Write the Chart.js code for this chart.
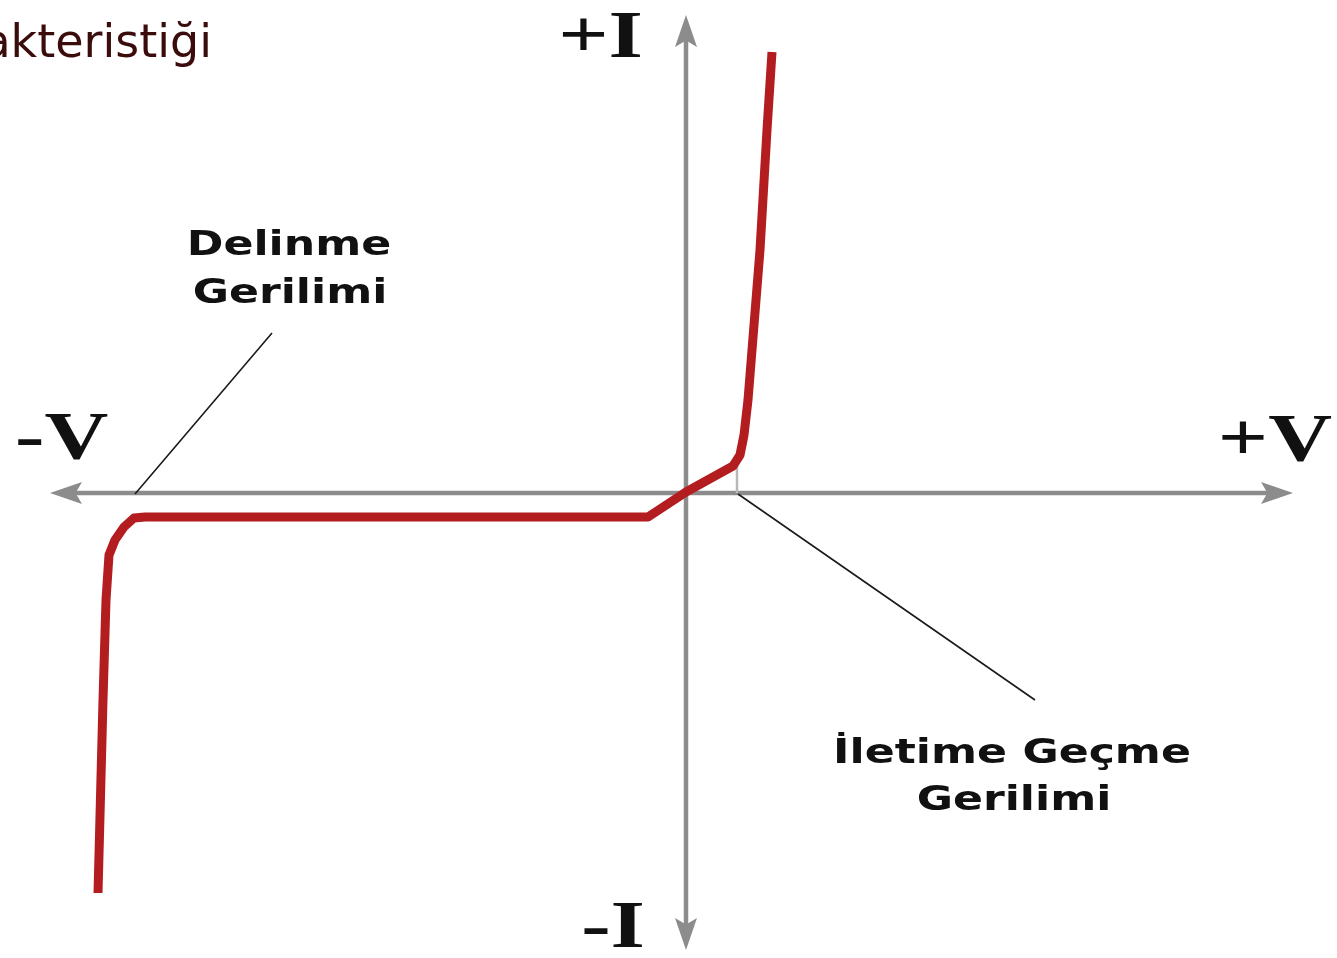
<!DOCTYPE html>
<html>
<head>
<meta charset="utf-8">
<script src="https://cdn.jsdelivr.net/npm/chart.js@4"></script>
<style>
  html, body { margin: 0; padding: 0; background: #fff; }
  #wrap { width: 1337px; height: 958px; position: relative; }
</style>
</head>
<body>
<div id="wrap"><canvas id="diyot"></canvas></div>
<script>
// diyot akim-gerilim egrisi (V, I birimsiz)
const voltaj = [-58.8, -58.3, -58.0, -57.7, -57.1, -56.2, -55.2, -54.1, -3.8, 0.0, 4.7, 5.4, 5.8, 6.2, 7.4, 8.1, 8.6];
const akim   = [-40.0, -20.7, -10.7, -6.2, -4.7, -3.4, -2.5, -2.4, -2.4, 0.1, 2.7, 3.8, 5.8, 9.3, 24.3, 36.3, 44.1];

const delinmeV = -55.1;   // delinme gerilimi
const iletimV = 5.1;      // iletime gecme gerilimi

const eksenEtiketleri = ["+I", "-I", "-V", "+V"];
const notlar = [["Delinme", "Gerilimi"], ["İletime Geçme", "Gerilimi"]];
const baslik = "Diyot Karakteristiği";

const noktalar = voltaj.map((v, i) => ({ x: v, y: akim[i] }));

const GRI = "#8c8c8c";
const SX = 1.3; // yazilar yatayda genis

function yaz(ctx, text, x, y, align, font, color, sx) {
    ctx.save();
    ctx.translate(x, y);
    ctx.scale(sx, 1);
    ctx.font = font;
    ctx.fillStyle = color;
    ctx.textAlign = align;
    ctx.textBaseline = "alphabetic";
    ctx.fillText(text, 0, 0);
    ctx.restore();
}

function ok(ctx, x, y, dx, dy) {
    // ucu (x,y) olan ok basi, (dx,dy) yonunde
    const L = 32, W = 11;
    const px = -dy, py = dx;
    ctx.beginPath();
    ctx.moveTo(x, y);
    ctx.lineTo(x - dx * L + px * W, y - dy * L + py * W);
    ctx.lineTo(x - dx * L * 0.8, y - dy * L * 0.8);
    ctx.lineTo(x - dx * L - px * W, y - dy * L - py * W);
    ctx.closePath();
    ctx.fill();
}

const eksenler = {
    id: "eksenler",
    beforeDatasetsDraw(chart) {
        const { ctx, scales: { x, y } } = chart;
        const x0 = x.getPixelForValue(0), y0 = y.getPixelForValue(0);
        const xl = x.getPixelForValue(-63.6), xr = x.getPixelForValue(60.7);
        const yt = y.getPixelForValue(47.8), yb = y.getPixelForValue(-45.7);
        ctx.save();
        ctx.strokeStyle = GRI;
        ctx.fillStyle = GRI;
        ctx.lineWidth = 4.5;
        ctx.beginPath();
        ctx.moveTo(xl + 20, y0); ctx.lineTo(xr - 20, y0);
        ctx.moveTo(x0, yt + 20); ctx.lineTo(x0, yb - 20);
        ctx.stroke();
        ok(ctx, xl, y0, -1, 0);
        ok(ctx, xr, y0, 1, 0);
        ok(ctx, x0, yt, 0, -1);
        ok(ctx, x0, yb, 0, 1);
        // iletim noktasindan eksene kisa cizgi
        ctx.lineWidth = 2.5;
        ctx.strokeStyle = "#b8b8b8";
        ctx.beginPath();
        ctx.moveTo(x.getPixelForValue(iletimV), y.getPixelForValue(2.7));
        ctx.lineTo(x.getPixelForValue(iletimV), y0);
        ctx.stroke();
        ctx.restore();
    },
    afterDatasetsDraw(chart) {
        const { ctx, scales: { x, y } } = chart;
        const px = v => x.getPixelForValue(v), py = v => y.getPixelForValue(v);
        const serif = "bold 68px 'Liberation Serif', 'Times New Roman', serif";
        yaz(ctx, eksenEtiketleri[0], px(-4.3), py(43.6), "right", serif, "#111", SX);
        yaz(ctx, eksenEtiketleri[1], px(-4.1), py(-45.4), "right", serif, "#111", SX);
        yaz(ctx, eksenEtiketleri[2], px(-67.1), py(3.5), "left", serif, "#111", SX);
        yaz(ctx, eksenEtiketleri[3], px(64.6), py(3.3), "right", serif, "#111", SX);

        const sans = "bold 34px 'DejaVu Sans', Verdana, sans-serif";
        yaz(ctx, notlar[0][0], px(-39.7), py(23.8), "center", sans, "#111", SX);
        yaz(ctx, notlar[0][1], px(-39.6), py(19.0), "center", sans, "#111", SX);
        yaz(ctx, notlar[1][0], px(32.6), py(-27.0), "center", sans, "#111", SX);
        yaz(ctx, notlar[1][1], px(32.8), py(-31.7), "center", sans, "#111", SX);

        // not cizgileri
        ctx.save();
        ctx.strokeStyle = "#1a1a1a";
        ctx.lineWidth = 1.6;
        ctx.beginPath();
        ctx.moveTo(px(-41.4), py(16.0)); ctx.lineTo(px(delinmeV), py(-0.1));
        ctx.moveTo(px(iletimV + 0.1), py(-0.1)); ctx.lineTo(px(34.9), py(-20.7));
        ctx.stroke();
        ctx.restore();

        yaz(ctx, baslik, 212, 57, "right", "46px 'DejaVu Sans', Verdana, sans-serif", "#3a0c0c", 1);
    }
};

new Chart(document.getElementById("diyot"), {
    type: "scatter",
    data: {
        datasets: [{
            data: noktalar,
            showLine: true,
            borderColor: "#b31d1f",
            borderWidth: 9,
            borderJoinStyle: "round",
            pointRadius: 0,
            tension: 0
        }]
    },
    options: {
        responsive: true,
        maintainAspectRatio: false,
        animation: false,
        layout: { padding: 0 },
        plugins: { legend: { display: false }, tooltip: { enabled: false } },
        scales: {
            x: { type: "linear", min: -68.6, max: 65.1, display: false },
            y: { type: "linear", min: -46.5, max: 49.3, display: false }
        }
    },
    plugins: [eksenler]
});
</script>
</body>
</html>
